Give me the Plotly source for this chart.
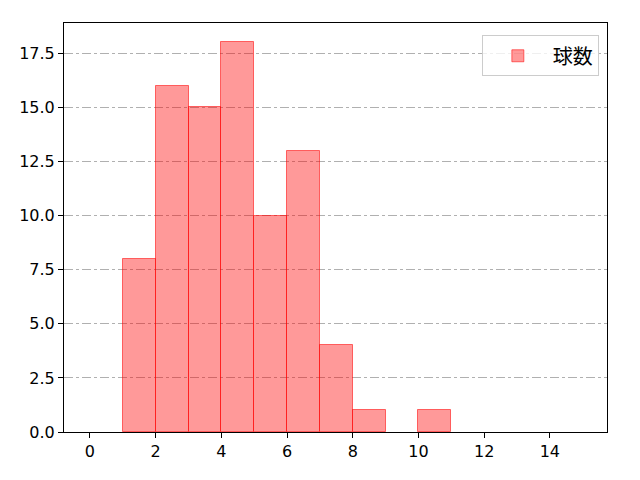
import plotly.graph_objects as go

bin_left = [1, 2, 3, 4, 5, 6, 7, 8, 9, 10]
counts = [8, 16, 15, 18, 10, 13, 4, 1, 0, 1]
xticks = [0, 2, 4, 6, 8, 10, 12, 14]
yticks = [0.0, 2.5, 5.0, 7.5, 10.0, 12.5, 15.0, 17.5]

centers = [b + 0.5 for b in bin_left]
line_widths = [1 if c > 0 else 0 for c in counts]

fig = go.Figure()
fig.add_trace(go.Bar(
    x=centers, y=counts, width=[1] * len(centers),
    name="球数",
    marker=dict(color="rgba(255,0,0,0.4)",
                line=dict(color="rgba(255,0,0,0.55)", width=line_widths)),
    showlegend=True,
))

fig.update_layout(
    width=640, height=480,
    margin=dict(l=56, r=41, t=15, b=56),
    plot_bgcolor="white", paper_bgcolor="white",
    font=dict(family="DejaVu Sans", size=16, color="black"),
    bargap=0,
    showlegend=True,
    legend=dict(
        x=0.985, y=0.97, xanchor="right", yanchor="top",
        bgcolor="rgba(255,255,255,0.8)", bordercolor="#cccccc", borderwidth=1,
        font=dict(size=20, family="Noto Sans CJK JP"),
        itemwidth=60,
    ),
    xaxis=dict(
        range=[-0.79, 15.74], tickvals=xticks, ticktext=[str(t) for t in xticks],
        showline=True, linecolor="black", linewidth=1, mirror=True,
        ticks="outside", ticklen=5, tickcolor="black", showgrid=False, zeroline=False,
    ),
    yaxis=dict(
        range=[0, 18.9], tickvals=yticks, ticktext=[f"{t:.1f}" for t in yticks],
        showline=True, linecolor="black", linewidth=1, mirror=True,
        ticks="outside", ticklen=5, tickcolor="black",
        showgrid=True, gridcolor="#b0b0b0", griddash="dashdot", gridwidth=1, zeroline=False,
    ),
)

fig.write_html("out.html")
